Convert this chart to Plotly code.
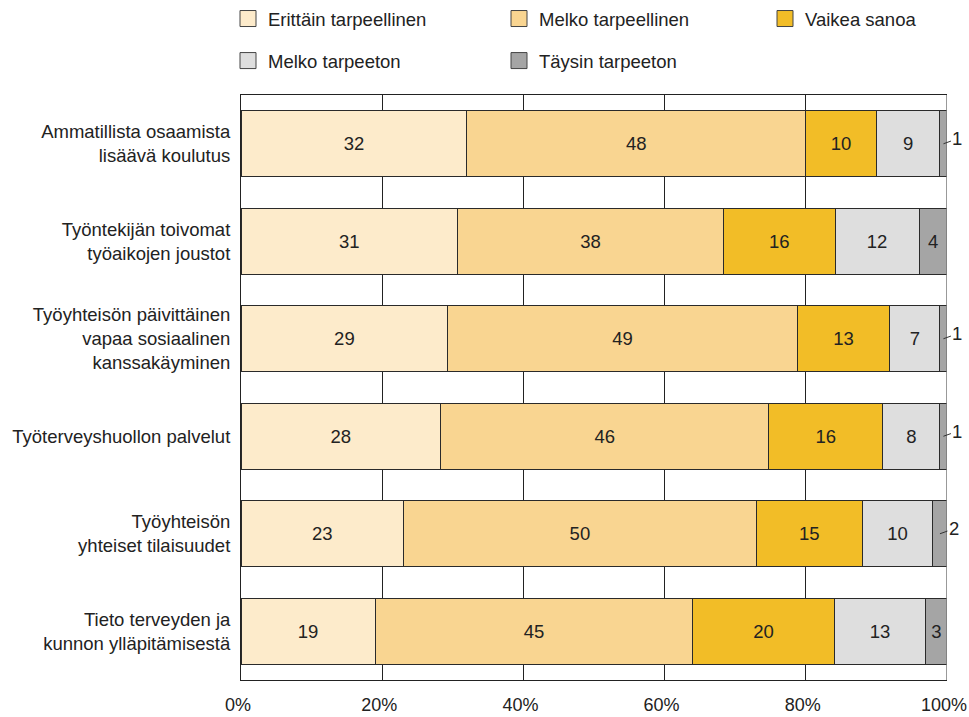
import plotly.graph_objects as go

# Survey: how necessary each workplace measure is considered (% of respondents)
categories = [
    "Ammatillista osaamista<br>lisäävä koulutus",
    "Työntekijän toivomat<br>työaikojen joustot",
    "Työyhteisön päivittäinen<br>vapaa sosiaalinen<br>kanssakäyminen",
    "Työterveyshuollon palvelut",
    "Työyhteisön<br>yhteiset tilaisuudet",
    "Tieto terveyden ja<br>kunnon ylläpitämisestä",
]
series_names = [
    "Erittäin tarpeellinen",
    "Melko tarpeellinen",
    "Vaikea sanoa",
    "Melko tarpeeton",
    "Täysin tarpeeton",
]
erittain_tarpeellinen = [32, 31, 29, 28, 23, 19]
melko_tarpeellinen = [48, 38, 49, 46, 50, 45]
vaikea_sanoa = [10, 16, 13, 16, 15, 20]
melko_tarpeeton = [9, 12, 7, 8, 10, 13]
taysin_tarpeeton = [1, 4, 1, 1, 2, 3]
tick_vals = [0, 20, 40, 60, 80, 100]
tick_text = ["0%", "20%", "40%", "60%", "80%", "100%"]

series_values = [erittain_tarpeellinen, melko_tarpeellinen, vaikea_sanoa,
                 melko_tarpeeton, taysin_tarpeeton]
colors = ["#FDEBCB", "#F9D591", "#F2BD27", "#DEDEDE", "#A5A5A5"]
# legend columns: two rows, three columns (column = legend box)
legend_of = ["legend", "legend2", "legend3", "legend", "legend2"]
FONT = "Liberation Sans, Arial, sans-serif"
TEXT = "#222222"
FS = 18.5

W, H = 969, 717
ML, MR, MT, MB = 241, 22, 95, 37
PW, PH = W - ML - MR, H - MT - MB

fig = go.Figure()
for i, (name, vals, col) in enumerate(zip(series_names, series_values, colors)):
    labels = [str(v) if v >= 3 else "" for v in vals]
    fig.add_trace(go.Bar(
        y=categories, x=vals, name=name, orientation="h",
        marker=dict(color=col, line=dict(color="#2a2a2a", width=1)),
        text=labels, textposition="inside", insidetextanchor="middle",
        textfont=dict(family=FONT, size=FS, color=TEXT),
        showlegend=False, legendgroup=name,
        hoverinfo="skip",
    ))

# legend keys: larger square swatches than the default bar key
for i, (name, col) in enumerate(zip(series_names, colors)):
    fig.add_trace(go.Scatter(
        x=[None], y=[None], mode="markers", name=name,
        marker=dict(symbol="square", size=16, color=col,
                    line=dict(color="#444444", width=1)),
        legend=legend_of[i], legendgroup=name, hoverinfo="skip",
    ))

# small end segments get their value outside the bar with a short leader line
for cat, row in zip(categories, zip(*series_values)):
    last = row[-1]
    if last < 3:
        total = sum(row)
        xc = 100 - (last / total * 100) / 2
        fig.add_annotation(
            x=xc, y=cat, xref="x", yref="y", text=str(last),
            showarrow=True, arrowhead=0, arrowwidth=1, arrowcolor="#333333",
            ax=14, ay=-5, standoff=0,
            font=dict(family=FONT, size=FS, color=TEXT),
        )

# right edge of the plot frame
fig.add_shape(type="line", xref="x", yref="paper", x0=100, x1=100, y0=0, y1=1,
              line=dict(color="#777777", width=1.5), layer="above")


def legend_box(x_px):
    return dict(
        orientation="v", xref="paper", yref="container",
        x=(x_px - ML) / PW, y=1.0,
        xanchor="left", yanchor="top", itemsizing="trace",
        font=dict(family=FONT, size=FS, color=TEXT),
        traceorder="grouped", tracegroupgap=15,
        bgcolor="rgba(0,0,0,0)", itemclick=False, itemdoubleclick=False,
    )


fig.update_layout(
    width=W, height=H,
    margin=dict(l=ML, r=MR, t=MT, b=MB),
    barmode="stack", barnorm="percent", bargap=0.32,
    plot_bgcolor="white", paper_bgcolor="white",
    font=dict(family=FONT, size=FS, color=TEXT),
    uniformtext=dict(minsize=FS, mode="show"),
    legend=legend_box(228),
    legend2=legend_box(499),
    legend3=legend_box(765),
    xaxis=dict(
        range=[0, 100], tickvals=tick_vals, ticktext=tick_text,
        showgrid=True, gridcolor="#222222", gridwidth=1,
        showline=True, mirror=True, linecolor="#222222", linewidth=1,
        zeroline=False, ticks="", ticklabelstandoff=8, ticklabelshift=-3,
        ticklabeloverflow="allow", automargin=False,
        tickfont=dict(family=FONT, size=18, color=TEXT), fixedrange=True,
    ),
    yaxis=dict(
        autorange="reversed", showline=True, linecolor="#222222", linewidth=1,
        ticks="", ticklabelstandoff=6, showgrid=False, automargin=False,
        tickfont=dict(family=FONT, size=FS, color=TEXT), fixedrange=True,
    ),
)

fig.write_html("out.html")
